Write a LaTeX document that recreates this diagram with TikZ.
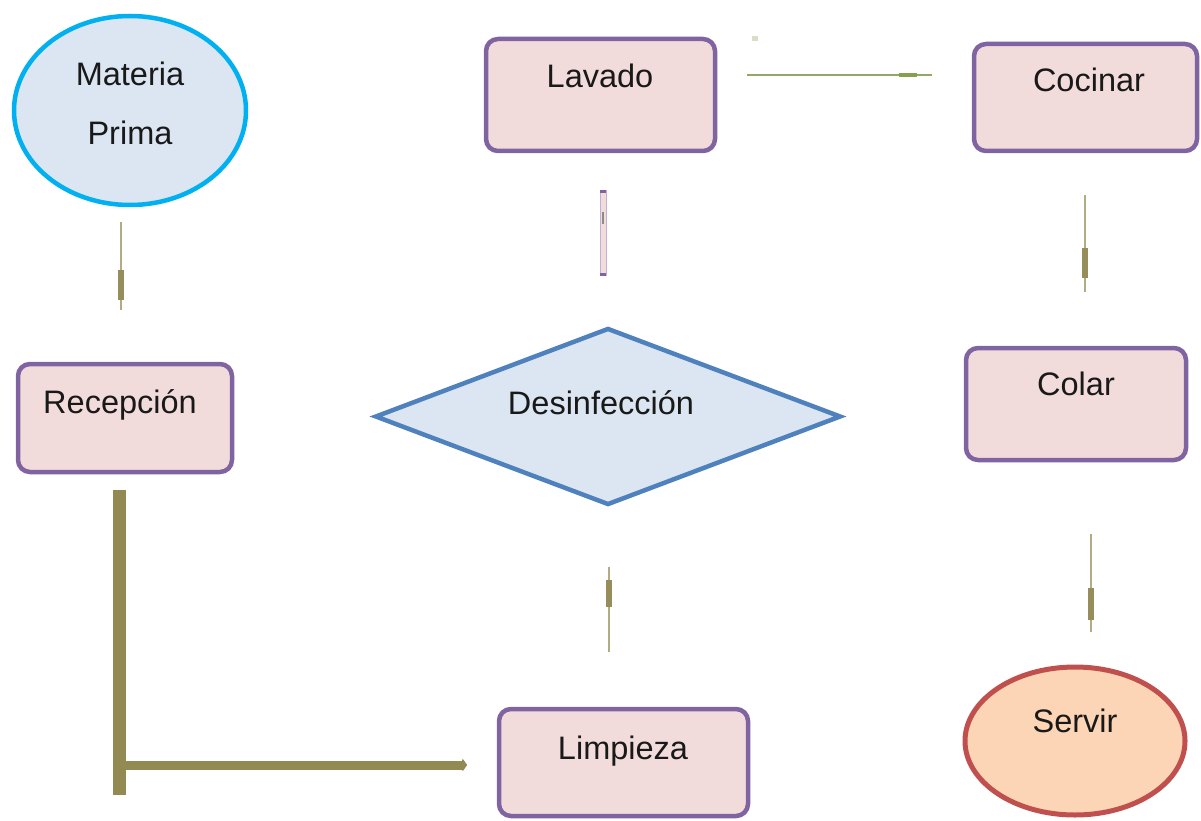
\documentclass[tikz,border=0pt]{standalone}
\usepackage{fontspec}
\setmainfont{Liberation Sans}
\usetikzlibrary{shapes.geometric,arrows.meta}
\definecolor{boxfill}{HTML}{F2DCDB}
\definecolor{boxline}{HTML}{8064A2}
\definecolor{bluefill}{HTML}{DCE6F2}
\definecolor{cyanline}{HTML}{00B0F0}
\definecolor{diamline}{HTML}{4F81BD}
\definecolor{servfill}{HTML}{FBD5B5}
\definecolor{servline}{HTML}{C0504D}
\definecolor{olthin}{HTML}{B3AB82}
\definecolor{olblock}{HTML}{978D5A}
\definecolor{olthick}{HTML}{938953}
\definecolor{grthin}{HTML}{93A862}
\definecolor{grblock}{HTML}{85A04E}
\definecolor{grdot}{HTML}{D7E0C6}
\tikzset{
  procbox/.style={draw=boxline, fill=boxfill, line width=4.5pt, rounded corners=12pt, inner sep=0pt},
  lbl/.style={anchor=base, inner sep=0pt, font=\fontsize{32.5}{39}\selectfont, text=black!90},
  thinconn/.style={draw=olthin, line width=2.5pt},
  connblock/.style={draw=olblock, line width=5.5pt},
}
\begin{document}
\begin{tikzpicture}[x=1pt,y=-1pt]
\useasboundingbox (0,0) rectangle (1201,821);
% shapes
\node[ellipse, draw=cyanline, fill=bluefill, line width=4.5pt, minimum width=232pt, minimum height=189pt, inner sep=0pt] (mp) at (130,110.5) {};
\node[procbox, minimum width=214pt, minimum height=108pt] (rec) at (125,418) {};
\node[procbox, minimum width=229pt, minimum height=112pt] (lav) at (600.5,95) {};
\node[procbox, minimum width=223pt, minimum height=107pt] (coc) at (1085.5,97.5) {};
\node[diamond, draw=diamline, fill=bluefill, line width=4.5pt, minimum width=466pt, minimum height=177pt, inner sep=0pt] (des) at (608,416.5) {};
\node[procbox, minimum width=220pt, minimum height=112pt] (col) at (1076,404) {};
\node[procbox, minimum width=249pt, minimum height=107pt] (lim) at (623.5,762.5) {};
\node[ellipse, draw=servline, fill=servfill, line width=5pt, minimum width=220pt, minimum height=148pt, inner sep=0pt] (ser) at (1075,741) {};
% labels
\node[lbl] (tmat) at (130,86) {Materia};
\node[lbl] (tpri) at (130,145) {Prima};
\node[lbl] (trec) at (120,413) {Recepción};
\node[lbl] (tlav) at (600,88) {Lavado};
\node[lbl] (tcoc) at (1089,92) {Cocinar};
\node[lbl] (tdes) at (601,414) {Desinfección};
\node[lbl] (tcol) at (1076,395) {Colar};
\node[lbl] (tlim) at (623,759) {Limpieza};
\node[lbl] (tser) at (1075,732) {Servir};
% connector coordinates
\coordinate (a1) at (121,222); \coordinate (a2) at (121,310);
\coordinate (b1) at (119,490); \coordinate (b2) at (119,795);
\coordinate (b3) at (125,765); \coordinate (b4) at (467,765);
\coordinate (c1) at (609,652); \coordinate (c2) at (609,567);
\coordinate (d1) at (603,190); \coordinate (d2) at (603,276);
\coordinate (e1) at (747,75); \coordinate (e2) at (932,75);
\coordinate (f1) at (1085,195); \coordinate (f2) at (1085,292);
\coordinate (g1) at (1091,534); \coordinate (g2) at (1091,632);
% Materia Prima -> Recepcion
\draw[thinconn] (a1) -- (a2);
\draw[connblock] (121,270) -- (121,300);
% Recepcion -> Limpieza
\draw[draw=olthick, line width=13pt] (b1) -- (b2);
\draw[draw=olthick, line width=9pt, -{Triangle[length=5pt,width=14pt,round]}] (b3) -- (b4);
% Limpieza -> Desinfeccion
\draw[thinconn] (c1) -- (c2);
\draw[connblock] (609,607) -- (609,580);
% Desinfeccion -> Lavado
\fill[boxfill] (600,190) rectangle (606,276);
\draw[boxline!50, line width=0.6pt] (600,190) -- (600,276) (606,190) -- (606,276);
\draw[boxline, line width=3pt] (600,191.5) -- (606,191.5) (600,274.5) -- (606,274.5);
\fill[black!45] (602,212) rectangle (604,224);
% Lavado -> Cocinar
\draw[draw=grthin, line width=2pt] (e1) -- (e2);
\draw[draw=grblock, line width=4.5pt] (899,75) -- (917,75);
\fill[grdot] (752,36) rectangle (758,41);
% Cocinar -> Colar
\draw[thinconn] (f1) -- (f2);
\draw[connblock] (1085,248) -- (1085,278);
% Colar -> Servir
\draw[thinconn] (g1) -- (g2);
\draw[connblock] (1091,588) -- (1091,620);
\end{tikzpicture}
\end{document}
